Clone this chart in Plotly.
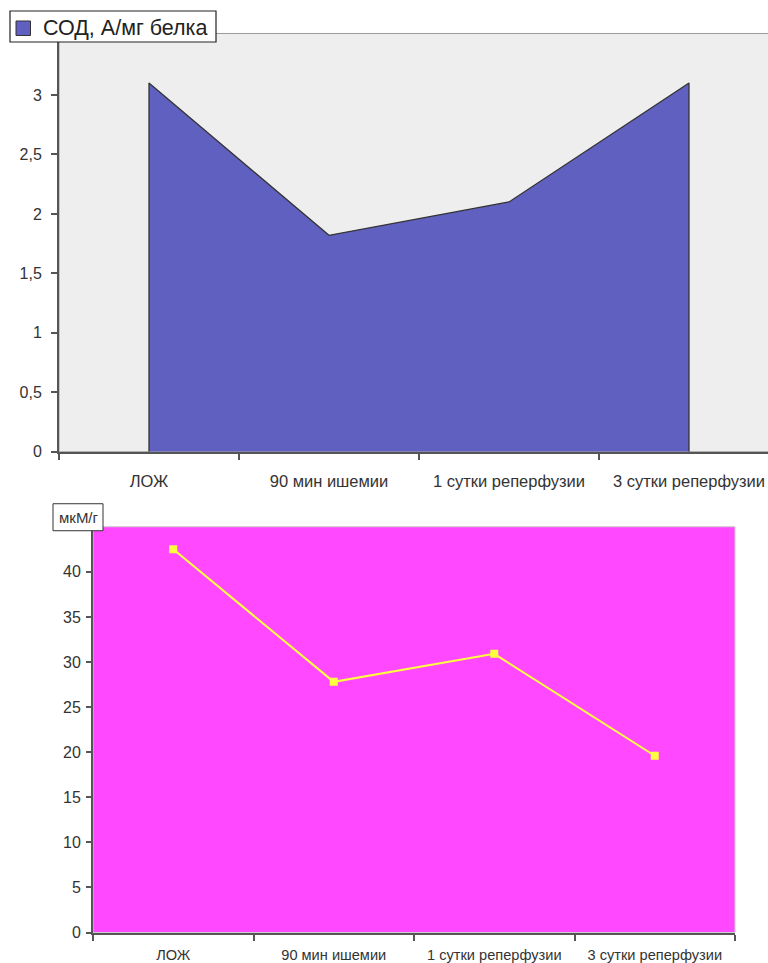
import plotly.graph_objects as go

W, H = 768, 963

# Categories and series values
categories_top = ["ЛОЖ", "90 мин ишемии", "1 сутки реперфузии", "3 сутки реперфузии"]
sod_values = [3.10, 1.82, 2.10, 3.10]
sod_name = "СОД, А/мг белка"
top_yticks = [0, 0.5, 1, 1.5, 2, 2.5, 3]
top_yticklabels = ["0", "0,5", "1", "1,5", "2", "2,5", "3"]

categories_bottom = ["ЛОЖ", "90 мин ишемии", "1 сутки реперфузии", "3 сутки реперфузии"]
mkm_values = [42.5, 27.8, 30.9, 19.6]
mkm_name = "мкМ/г"
bottom_yticks = [0, 5, 10, 15, 20, 25, 30, 35, 40]

# vertical extent used when converting pixel rows to paper fractions
H_LAYOUT = 954.5


def px_x(x):
    return x / W


def px_y(y):
    return 1 - y / H_LAYOUT


FONT = "Arial, Liberation Sans, sans-serif"
AXIS_COL = "#555555"
TEXT_COL = "#333333"

fig = go.Figure()

# Area chart: closed polygon so both vertical edges are outlined
area_x = [categories_top[0]] + categories_top + [categories_top[-1]]
area_y = [0] + sod_values + [0]
fig.add_trace(go.Scatter(
    x=area_x, y=area_y, mode="lines", fill="toself",
    fillcolor="#6060C0", line=dict(color="#333333", width=1.3),
    name=sod_name, showlegend=False, hoverinfo="skip",
    xaxis="x", yaxis="y",
))

# Line chart with square markers
fig.add_trace(go.Scatter(
    x=categories_bottom, y=mkm_values, mode="lines+markers",
    line=dict(color="#FFFF40", width=2),
    marker=dict(symbol="square", size=8, color="#FFFF40"),
    name=mkm_name, showlegend=False,
    xaxis="x2", yaxis="y2",
))

# Top plot geometry (pixels)
t_left, t_right, t_top, t_bot = 59, 768, 33.5, 452
t_cat_w = 180.0
t_xmax = -0.5 + (t_right - t_left) / t_cat_w
t_ymax = 3.0 * (t_bot - t_top) / (t_bot - 95)

# Bottom plot geometry (pixels)
b_left, b_right, b_top, b_bot = 93, 735, 527, 933

fig.update_layout(
    width=W, height=H,
    margin=dict(l=0, r=0, t=0, b=0),
    paper_bgcolor="white",
    font=dict(family=FONT, color=TEXT_COL),
    showlegend=False,
    xaxis=dict(
        domain=[px_x(t_left), px_x(t_right)],
        type="category", categoryorder="array", categoryarray=categories_top,
        range=[-0.5, t_xmax], tickson="boundaries",
        ticks="outside", ticklen=6, tickwidth=1.5, tickcolor=AXIS_COL,
        showline=True, linecolor=AXIS_COL, linewidth=2,
        showgrid=False, zeroline=False, fixedrange=True,
        tickfont=dict(size=16.5, color=TEXT_COL), ticklabelstandoff=13,
        anchor="y",
    ),
    yaxis=dict(
        domain=[px_y(t_bot), px_y(t_top)],
        range=[0, t_ymax],
        tickvals=top_yticks, ticktext=top_yticklabels,
        ticks="outside", ticklen=6, tickwidth=1.5, tickcolor=AXIS_COL,
        showline=True, linecolor=AXIS_COL, linewidth=2,
        showgrid=False, zeroline=False, fixedrange=True,
        tickfont=dict(size=16, color=TEXT_COL), ticklabelstandoff=6,
        anchor="x",
    ),
    xaxis2=dict(
        domain=[px_x(b_left), px_x(b_right)],
        type="category", categoryorder="array", categoryarray=categories_bottom,
        range=[-0.5, 3.5], tickson="boundaries",
        ticks="outside", ticklen=6, tickwidth=1.5, tickcolor=AXIS_COL,
        showline=True, linecolor=AXIS_COL, linewidth=2,
        showgrid=False, zeroline=False, fixedrange=True,
        tickfont=dict(size=14.6, color=TEXT_COL), ticklabelstandoff=8,
        anchor="y2",
    ),
    yaxis2=dict(
        domain=[px_y(b_bot), px_y(b_top)],
        range=[0, 45],
        tickvals=bottom_yticks,
        ticks="outside", ticklen=5, tickwidth=1.5, tickcolor=AXIS_COL,
        showline=True, linecolor=AXIS_COL, linewidth=2,
        showgrid=False, zeroline=False, fixedrange=True,
        tickfont=dict(size=16, color=TEXT_COL), ticklabelstandoff=2,
        anchor="x2",
    ),
)

shapes = [
    # top plot area background and border
    dict(type="rect", xref="paper", yref="paper", layer="below",
         x0=px_x(t_left), x1=px_x(t_right) + 0.01, y0=px_y(t_bot), y1=px_y(t_top),
         fillcolor="#EEEEEE", line=dict(color="#9a9a9a", width=1)),
    # bottom plot area background
    dict(type="rect", xref="paper", yref="paper", layer="below",
         x0=px_x(b_left), x1=px_x(b_right), y0=px_y(b_bot), y1=px_y(b_top),
         fillcolor="#FF48FF", line=dict(color="#cccccc", width=1)),
    # legend box of the area chart
    dict(type="rect", xref="paper", yref="paper", layer="above",
         x0=px_x(10), x1=px_x(216), y0=px_y(42), y1=px_y(11),
         fillcolor="white", line=dict(color="#222222", width=1.2)),
    dict(type="rect", xref="paper", yref="paper", layer="above",
         x0=px_x(16), x1=px_x(30.5), y0=px_y(35.5), y1=px_y(21),
         fillcolor="#6060C0", line=dict(color="#333333", width=1)),
    # unit label box of the line chart
    dict(type="rect", xref="paper", yref="paper", layer="above",
         x0=px_x(53), x1=px_x(103), y0=px_y(531), y1=px_y(504),
         fillcolor="white", line=dict(color="#333333", width=1)),
]

annotations = [
    dict(xref="paper", yref="paper", x=px_x(41), y=px_y(28.5),
         xanchor="left", yanchor="middle", showarrow=False,
         text=sod_name, font=dict(size=21.5, color="#222222", family=FONT)),
    dict(xref="paper", yref="paper", x=px_x(101), y=px_y(517.5),
         xanchor="right", yanchor="middle", showarrow=False,
         text=mkm_name, font=dict(size=15, color="#333333", family=FONT)),
]

fig.update_layout(shapes=shapes, annotations=annotations)

fig.write_html("out.html")
